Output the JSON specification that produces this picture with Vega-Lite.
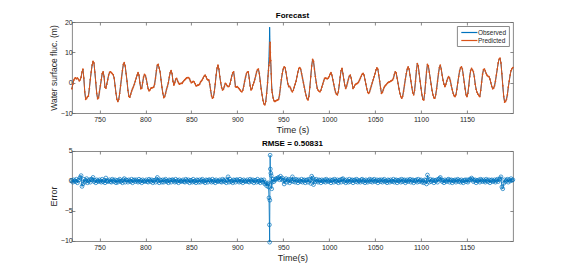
{
"$schema": "https://vega.github.io/schema/vega-lite/v6.json",
"padding": {"left": 47.9, "top": 11, "right": 5, "bottom": 2},
"data": {"values": [
{"t":720,"o":-2,"p":-2,"e":0.1},{"t":721,"o":-0.5,"p":-0.5,"e":-0.2},{"t":722,"o":0.8,"p":0.8,"e":0.2},{"t":723,"o":1.4,"p":1.4,"e":0},{"t":724,"o":1.6,"p":1.6,"e":-0.1},{"t":725,"o":1.3,"p":1.3,"e":0.3},{"t":726,"o":1.5,"p":1.5,"e":-0.3},{"t":727,"o":1.2,"p":1.2,"e":0.1},{"t":728,"o":0.6,"p":0.6,"e":0.2},{"t":729,"o":0.9,"p":0.9,"e":0.6},
{"t":730,"o":1.8,"p":1.8,"e":0.9},{"t":731,"o":3.5,"p":3.5,"e":-0.9},{"t":732,"o":4.5,"p":4.5,"e":-0.5},{"t":733,"o":1.5,"p":1.5,"e":0.3},{"t":734,"o":-3,"p":-3,"e":-0.2},{"t":735,"o":-5.5,"p":-5.5,"e":0.1},{"t":736,"o":-5.2,"p":-5.2,"e":0.4},{"t":737,"o":-4.6,"p":-4.6,"e":-0.3},{"t":738,"o":-4.4,"p":-4.4,"e":0},{"t":739,"o":-2,"p":-2,"e":0.2},
{"t":740,"o":1,"p":1,"e":-0.2},{"t":741,"o":3.5,"p":3.5,"e":0.3},{"t":742,"o":5.8,"p":5.8,"e":0.2},{"t":743,"o":7,"p":7,"e":0.6},{"t":744,"o":6.5,"p":6.5,"e":-0.1},{"t":745,"o":3.5,"p":3.5,"e":0.1},{"t":746,"o":0,"p":0,"e":-0.3},{"t":747,"o":-3.5,"p":-3.5,"e":0.2},{"t":748,"o":-5.3,"p":-5.3,"e":0},{"t":749,"o":-5,"p":-5,"e":-0.1},
{"t":750,"o":-3,"p":-3,"e":0.2},{"t":751,"o":-1,"p":-1,"e":0},{"t":752,"o":1,"p":1,"e":-0.2},{"t":753,"o":3,"p":3,"e":0.3},{"t":754,"o":3.6,"p":3.6,"e":-0.1},{"t":755,"o":2,"p":2,"e":0.1},{"t":756,"o":-1.5,"p":-1.5,"e":-0.3},{"t":757,"o":-1.8,"p":-1.8,"e":0.5},{"t":758,"o":-0.5,"p":-0.5,"e":0},{"t":759,"o":1,"p":1,"e":-0.1},
{"t":760,"o":2.5,"p":2.5,"e":0},{"t":761,"o":3.4,"p":3.4,"e":0.2},{"t":762,"o":3.6,"p":3.6,"e":-0.1},{"t":763,"o":3.3,"p":3.3,"e":-0.2},{"t":764,"o":3,"p":3,"e":0.3},{"t":765,"o":2.6,"p":2.6,"e":0.1},{"t":766,"o":1.5,"p":1.5,"e":-0.1},{"t":767,"o":-1,"p":-1,"e":0.2},{"t":768,"o":-3.5,"p":-3.5,"e":-0.3},{"t":769,"o":-5.5,"p":-5.5,"e":0.1},
{"t":770,"o":-6.2,"p":-6.2,"e":-0.2},{"t":771,"o":-5.5,"p":-5.5,"e":0.1},{"t":772,"o":-3.5,"p":-3.5,"e":0.3},{"t":773,"o":-1,"p":-1,"e":-0.1},{"t":774,"o":1.5,"p":1.5,"e":0},{"t":775,"o":4,"p":4,"e":-0.3},{"t":776,"o":6,"p":6,"e":0.2},{"t":777,"o":6.6,"p":6.6,"e":0.4},{"t":778,"o":5.5,"p":5.5,"e":-0.2},{"t":779,"o":3,"p":3,"e":0.2},
{"t":780,"o":0.5,"p":0.5,"e":0.1},{"t":781,"o":-2.5,"p":-2.5,"e":-0.2},{"t":782,"o":-4.5,"p":-4.5,"e":0.2},{"t":783,"o":-4.8,"p":-4.8,"e":0},{"t":784,"o":-3.8,"p":-3.8,"e":-0.1},{"t":785,"o":-2.8,"p":-2.8,"e":0.3},{"t":786,"o":-2,"p":-2,"e":-0.3},{"t":787,"o":-1.3,"p":-1.3,"e":0.1},{"t":788,"o":-0.5,"p":-0.5,"e":0.2},{"t":789,"o":0.5,"p":0.5,"e":-0.1},
{"t":790,"o":1.5,"p":1.5,"e":0.2},{"t":791,"o":2.5,"p":2.5,"e":0},{"t":792,"o":3.3,"p":3.3,"e":-0.2},{"t":793,"o":2.5,"p":2.5,"e":0.3},{"t":794,"o":0,"p":0,"e":-0.1},{"t":795,"o":-2,"p":-2,"e":0.1},{"t":796,"o":-1.8,"p":-1.8,"e":-0.3},{"t":797,"o":0,"p":0,"e":0.2},{"t":798,"o":1.8,"p":1.8,"e":0},{"t":799,"o":2.7,"p":2.7,"e":-0.1},
{"t":800,"o":2.4,"p":2.4,"e":0},{"t":801,"o":1.2,"p":1.2,"e":0.2},{"t":802,"o":-0.5,"p":-0.5,"e":-0.1},{"t":803,"o":-2,"p":-2,"e":-0.2},{"t":804,"o":-2.7,"p":-2.7,"e":0.3},{"t":805,"o":-2.4,"p":-2.4,"e":0.1},{"t":806,"o":-1.8,"p":-1.8,"e":-0.1},{"t":807,"o":-1.7,"p":-1.7,"e":0.2},{"t":808,"o":-1.6,"p":-1.6,"e":-0.3},{"t":809,"o":-1.5,"p":-1.5,"e":0.1},
{"t":810,"o":-0.5,"p":-0.5,"e":0.1},{"t":811,"o":1.5,"p":1.5,"e":-0.2},{"t":812,"o":4,"p":4,"e":0.3},{"t":813,"o":5.8,"p":5.8,"e":0.6},{"t":814,"o":6,"p":6,"e":0},{"t":815,"o":4.8,"p":4.8,"e":-0.3},{"t":816,"o":3.6,"p":3.6,"e":0.2},{"t":817,"o":1,"p":1,"e":0.1},{"t":818,"o":-1.5,"p":-1.5,"e":-0.2},{"t":819,"o":-3.5,"p":-3.5,"e":0.2},
{"t":820,"o":-4.9,"p":-4.9,"e":-0.2},{"t":821,"o":-4.6,"p":-4.6,"e":0.1},{"t":822,"o":-3.5,"p":-3.5,"e":0.3},{"t":823,"o":-2.2,"p":-2.2,"e":-0.1},{"t":824,"o":-1.2,"p":-1.2,"e":0},{"t":825,"o":0,"p":0,"e":-0.3},{"t":826,"o":1.8,"p":1.8,"e":0.2},{"t":827,"o":3.3,"p":3.3,"e":0.1},{"t":828,"o":4,"p":4,"e":-0.2},{"t":829,"o":3,"p":3,"e":0.2},
{"t":830,"o":0.5,"p":0.5,"e":0.2},{"t":831,"o":-0.8,"p":-0.8,"e":0},{"t":832,"o":0,"p":0,"e":-0.2},{"t":833,"o":1.2,"p":1.2,"e":0.3},{"t":834,"o":1.4,"p":1.4,"e":-0.1},{"t":835,"o":0.6,"p":0.6,"e":0.1},{"t":836,"o":0,"p":0,"e":-0.3},{"t":837,"o":-0.5,"p":-0.5,"e":0.2},{"t":838,"o":-0.3,"p":-0.3,"e":0},{"t":839,"o":-0.2,"p":-0.2,"e":-0.1},
{"t":840,"o":-0.2,"p":-0.2,"e":0},{"t":841,"o":0.3,"p":0.3,"e":0.2},{"t":842,"o":0.7,"p":0.7,"e":-0.1},{"t":843,"o":1,"p":1,"e":-0.2},{"t":844,"o":1.3,"p":1.3,"e":0.3},{"t":845,"o":1.6,"p":1.6,"e":0.1},{"t":846,"o":1.7,"p":1.7,"e":-0.1},{"t":847,"o":1.7,"p":1.7,"e":0.2},{"t":848,"o":1.3,"p":1.3,"e":-0.3},{"t":849,"o":0.5,"p":0.5,"e":0.1},
{"t":850,"o":0,"p":0,"e":0.1},{"t":851,"o":0.2,"p":0.2,"e":-0.2},{"t":852,"o":0.4,"p":0.4,"e":0.3},{"t":853,"o":0.3,"p":0.3,"e":-0.1},{"t":854,"o":-0.3,"p":-0.3,"e":0},{"t":855,"o":-1,"p":-1,"e":-0.3},{"t":856,"o":-1,"p":-1,"e":0.2},{"t":857,"o":-0.8,"p":-0.8,"e":0.1},{"t":858,"o":-0.8,"p":-0.8,"e":-0.2},{"t":859,"o":-0.5,"p":-0.5,"e":0.2},
{"t":860,"o":0.2,"p":0.2,"e":-0.2},{"t":861,"o":0.6,"p":0.6,"e":0.1},{"t":862,"o":1,"p":1,"e":0.3},{"t":863,"o":1.6,"p":1.6,"e":-0.1},{"t":864,"o":2.2,"p":2.2,"e":0},{"t":865,"o":2.5,"p":2.5,"e":-0.3},{"t":866,"o":2,"p":2,"e":0.2},{"t":867,"o":1.2,"p":1.2,"e":0.1},{"t":868,"o":0.9,"p":0.9,"e":-0.2},{"t":869,"o":0.9,"p":0.9,"e":0.2},
{"t":870,"o":-0.5,"p":-0.5,"e":0.2},{"t":871,"o":-2.5,"p":-2.5,"e":0},{"t":872,"o":-4.3,"p":-4.3,"e":-0.2},{"t":873,"o":-5.1,"p":-5.1,"e":0.3},{"t":874,"o":-4.8,"p":-4.8,"e":-0.1},{"t":875,"o":-3,"p":-3,"e":0.1},{"t":876,"o":-0.5,"p":-0.5,"e":-0.3},{"t":877,"o":2.5,"p":2.5,"e":0.2},{"t":878,"o":4.8,"p":4.8,"e":0},{"t":879,"o":5.8,"p":5.8,"e":-0.1},
{"t":880,"o":4.5,"p":4.5,"e":0},{"t":881,"o":2,"p":2,"e":0.2},{"t":882,"o":0,"p":0,"e":-0.1},{"t":883,"o":-1.6,"p":-1.6,"e":-0.2},{"t":884,"o":-2.4,"p":-2.4,"e":0.3},{"t":885,"o":-2.1,"p":-2.1,"e":0.1},{"t":886,"o":-1.2,"p":-1.2,"e":-0.1},{"t":887,"o":-0.2,"p":-0.2,"e":0.2},{"t":888,"o":-0.5,"p":-0.5,"e":-0.3},{"t":889,"o":-1,"p":-1,"e":0.1},
{"t":890,"o":-1.3,"p":-1.3,"e":0.7},{"t":891,"o":-1.2,"p":-1.2,"e":-0.2},{"t":892,"o":-0.5,"p":-0.5,"e":0.3},{"t":893,"o":0.8,"p":0.8,"e":-0.1},{"t":894,"o":2.2,"p":2.2,"e":0},{"t":895,"o":3.2,"p":3.2,"e":-0.3},{"t":896,"o":3.6,"p":3.6,"e":0.2},{"t":897,"o":1.5,"p":1.5,"e":0.1},{"t":898,"o":-1.3,"p":-1.3,"e":-0.2},{"t":899,"o":-1.5,"p":-1.5,"e":0.2},
{"t":900,"o":-1.3,"p":-1.3,"e":0.2},{"t":901,"o":-1.6,"p":-1.6,"e":0},{"t":902,"o":-2,"p":-2,"e":-0.2},{"t":903,"o":-2.4,"p":-2.4,"e":0.3},{"t":904,"o":-2.8,"p":-2.8,"e":-0.1},{"t":905,"o":-3,"p":-3,"e":0.1},{"t":906,"o":-2.5,"p":-2.5,"e":-0.3},{"t":907,"o":-1.2,"p":-1.2,"e":0.2},{"t":908,"o":0.4,"p":0.4,"e":0},{"t":909,"o":1.8,"p":1.8,"e":-0.1},
{"t":910,"o":3,"p":3,"e":0},{"t":911,"o":3.5,"p":3.5,"e":0.2},{"t":912,"o":3.6,"p":3.6,"e":-0.1},{"t":913,"o":1.5,"p":1.5,"e":-0.2},{"t":914,"o":-1,"p":-1,"e":0.3},{"t":915,"o":-2.4,"p":-2.4,"e":0.1},{"t":916,"o":-2,"p":-2,"e":-0.1},{"t":917,"o":-0.8,"p":-0.8,"e":0.2},{"t":918,"o":0,"p":0,"e":-0.3},{"t":919,"o":1,"p":1,"e":0.1},
{"t":920,"o":2.2,"p":2.2,"e":0.1},{"t":921,"o":3.5,"p":3.5,"e":-0.2},{"t":922,"o":4.3,"p":4.3,"e":0.3},{"t":923,"o":4.5,"p":4.5,"e":-0.1},{"t":924,"o":3,"p":3,"e":0},{"t":925,"o":0.5,"p":0.5,"e":-0.3},{"t":926,"o":-2,"p":-2,"e":0.2},{"t":927,"o":-4,"p":-4,"e":0.1},{"t":928,"o":-5.8,"p":-5.8,"e":-0.2},{"t":929,"o":-7,"p":-7,"e":0.2},
{"t":930,"o":-7.3,"p":-7.3,"e":-0.5},{"t":931,"o":-6.2,"p":-6.2,"e":-0.3},{"t":932,"o":-3.5,"p":-3.5,"e":-0.8},{"t":933,"o":0,"p":0,"e":-0.5},{"t":933.5,"o":2.5,"p":2.2,"e":-0.3},{"t":934,"o":5,"p":4,"e":-1.0},{"t":934.5,"o":8.5,"p":5.7,"e":-2.8},{"t":935,"o":14,"p":6.7,"e":-7.3},{"t":935.25,"o":18.3,"p":8.1,"e":-10.2},{"t":935.5,"o":15,"p":11.8,"e":-3.2},{"t":935.75,"o":9,"p":13.3,"e":4.3},{"t":936,"o":8,"p":10,"e":2.0},{"t":936.5,"o":6,"p":7.3,"e":1.3},{"t":937,"o":2,"p":2.9,"e":0.9},{"t":937.5,"o":-1,"p":-2.3,"e":-1.3},{"t":938,"o":-3,"p":-3.2,"e":-0.2},{"t":939,"o":-5,"p":-5,"e":0.3},
{"t":940,"o":-6,"p":-6,"e":-0.1},{"t":941,"o":-6.2,"p":-6.2,"e":0.2},{"t":942,"o":-6,"p":-6,"e":0.4},{"t":943,"o":-5.8,"p":-5.8,"e":0.3},{"t":944,"o":-5.7,"p":-5.7,"e":0.5},{"t":945,"o":-5.5,"p":-5.5,"e":0.6},{"t":946,"o":-4,"p":-4,"e":0.2},{"t":947,"o":-1.5,"p":-1.5,"e":0.8},{"t":948,"o":1,"p":1,"e":0.3},{"t":949,"o":3,"p":3,"e":0.5},
{"t":950,"o":4.5,"p":4.5,"e":0.1},{"t":951,"o":5.2,"p":5.2,"e":-0.5},{"t":952,"o":5,"p":5,"e":0.2},{"t":953,"o":3.5,"p":3.5,"e":0.4},{"t":954,"o":1.5,"p":1.5,"e":-0.2},{"t":955,"o":-0.3,"p":-0.3,"e":0.1},{"t":956,"o":-1.3,"p":-1.3,"e":0.3},{"t":957,"o":-1.2,"p":-1.2,"e":-0.3},{"t":958,"o":-1.8,"p":-1.8,"e":0.2},{"t":959,"o":-2.6,"p":-2.6,"e":0},
{"t":960,"o":-3,"p":-3,"e":0.7},{"t":961,"o":-2.5,"p":-2.5,"e":-0.1},{"t":962,"o":-1.5,"p":-1.5,"e":0.2},{"t":963,"o":-0.5,"p":-0.5,"e":-0.2},{"t":964,"o":0.5,"p":0.5,"e":0.3},{"t":965,"o":2,"p":2,"e":0.1},{"t":966,"o":3.5,"p":3.5,"e":-0.3},{"t":967,"o":4.7,"p":4.7,"e":0.2},{"t":968,"o":5,"p":5,"e":0},{"t":969,"o":4.5,"p":4.5,"e":-0.1},
{"t":970,"o":3,"p":3,"e":0.3},{"t":971,"o":1.5,"p":1.5,"e":-0.2},{"t":972,"o":0,"p":0,"e":0.1},{"t":973,"o":-1.5,"p":-1.5,"e":0.2},{"t":974,"o":-3,"p":-3,"e":-0.3},{"t":975,"o":-4.3,"p":-4.3,"e":0.1},{"t":976,"o":-5.3,"p":-5.3,"e":0.2},{"t":977,"o":-5.7,"p":-5.7,"e":-0.2},{"t":978,"o":-4.5,"p":-4.5,"e":0.3},{"t":979,"o":-1.5,"p":-1.5,"e":0.1},
{"t":980,"o":2,"p":2,"e":-0.4},{"t":981,"o":5.5,"p":5.5,"e":0.8},{"t":982,"o":7.7,"p":7.7,"e":0.5},{"t":983,"o":7,"p":7,"e":-0.6},{"t":984,"o":4.5,"p":4.5,"e":0.2},{"t":985,"o":2,"p":2,"e":-0.1},{"t":986,"o":0,"p":0,"e":0.3},{"t":987,"o":-1.8,"p":-1.8,"e":0},{"t":988,"o":-2.5,"p":-2.5,"e":-0.2},{"t":989,"o":-2.8,"p":-2.8,"e":0.2},
{"t":990,"o":-3,"p":-3,"e":0.1},{"t":991,"o":-2.5,"p":-2.5,"e":-0.3},{"t":992,"o":-1.5,"p":-1.5,"e":0.2},{"t":993,"o":-0.5,"p":-0.5,"e":0},{"t":994,"o":0.5,"p":0.5,"e":-0.1},{"t":995,"o":1.4,"p":1.4,"e":0.2},{"t":996,"o":1.5,"p":1.5,"e":-0.2},{"t":997,"o":1.4,"p":1.4,"e":0.3},{"t":998,"o":1.3,"p":1.3,"e":0.1},{"t":999,"o":1.5,"p":1.5,"e":-0.1},
{"t":1000,"o":2,"p":2,"e":0},{"t":1001,"o":2.8,"p":2.8,"e":0.2},{"t":1002,"o":3.3,"p":3.3,"e":-0.3},{"t":1003,"o":2.5,"p":2.5,"e":0.1},{"t":1004,"o":1,"p":1,"e":0.2},{"t":1005,"o":-0.5,"p":-0.5,"e":-0.2},{"t":1006,"o":-2,"p":-2,"e":0.3},{"t":1007,"o":-3.2,"p":-3.2,"e":0},{"t":1008,"o":-3.8,"p":-3.8,"e":-0.1},{"t":1009,"o":-4,"p":-4,"e":0.2},
{"t":1010,"o":-3,"p":-3,"e":-0.3},{"t":1011,"o":-0.8,"p":-0.8,"e":0.1},{"t":1012,"o":1.8,"p":1.8,"e":0.2},{"t":1013,"o":4,"p":4,"e":-0.2},{"t":1014,"o":4.7,"p":4.7,"e":0.3},{"t":1015,"o":3,"p":3,"e":0.4},{"t":1016,"o":1,"p":1,"e":-0.1},{"t":1017,"o":-0.8,"p":-0.8,"e":0.1},{"t":1018,"o":-1.9,"p":-1.9,"e":-0.3},{"t":1019,"o":-1.2,"p":-1.2,"e":0.2},
{"t":1020,"o":0,"p":0,"e":0},{"t":1021,"o":1.2,"p":1.2,"e":-0.2},{"t":1022,"o":2.2,"p":2.2,"e":0.3},{"t":1023,"o":2.5,"p":2.5,"e":-0.1},{"t":1024,"o":1.5,"p":1.5,"e":0.1},{"t":1025,"o":-0.2,"p":-0.2,"e":0.2},{"t":1026,"o":-1.9,"p":-1.9,"e":-0.3},{"t":1027,"o":-1.5,"p":-1.5,"e":0.1},{"t":1028,"o":-0.8,"p":-0.8,"e":0.2},{"t":1029,"o":-0.5,"p":-0.5,"e":-0.1},
{"t":1030,"o":-0.3,"p":-0.3,"e":0.3},{"t":1031,"o":-0.2,"p":-0.2,"e":-0.2},{"t":1032,"o":0.2,"p":0.2,"e":0.1},{"t":1033,"o":0.8,"p":0.8,"e":0},{"t":1034,"o":1.5,"p":1.5,"e":-0.2},{"t":1035,"o":2.2,"p":2.2,"e":0.2},{"t":1036,"o":2.8,"p":2.8,"e":0.3},{"t":1037,"o":3.1,"p":3.1,"e":-0.1},{"t":1038,"o":2.5,"p":2.5,"e":0.1},{"t":1039,"o":1,"p":1,"e":-0.3},
{"t":1040,"o":-0.5,"p":-0.5,"e":0.2},{"t":1041,"o":-2,"p":-2,"e":0},{"t":1042,"o":-3.2,"p":-3.2,"e":-0.2},{"t":1043,"o":-3.5,"p":-3.5,"e":0.1},{"t":1044,"o":-3,"p":-3,"e":0.3},{"t":1045,"o":-2,"p":-2,"e":-0.1},{"t":1046,"o":-1,"p":-1,"e":0.2},{"t":1047,"o":0,"p":0,"e":-0.2},{"t":1048,"o":1,"p":1,"e":0.1},{"t":1049,"o":2,"p":2,"e":0.3},
{"t":1050,"o":3,"p":3,"e":-0.1},{"t":1051,"o":4.2,"p":4.2,"e":0},{"t":1052,"o":4.9,"p":4.9,"e":0.2},{"t":1053,"o":4.5,"p":4.5,"e":-0.3},{"t":1054,"o":2.5,"p":2.5,"e":0.1},{"t":1055,"o":0.5,"p":0.5,"e":0.2},{"t":1056,"o":-1.8,"p":-1.8,"e":-0.1},{"t":1057,"o":-3.5,"p":-3.5,"e":0.2},{"t":1058,"o":-3.2,"p":-3.2,"e":-0.2},{"t":1059,"o":-2.3,"p":-2.3,"e":0.1},
{"t":1060,"o":-1.5,"p":-1.5,"e":0.3},{"t":1061,"o":-1,"p":-1,"e":-0.1},{"t":1062,"o":-0.7,"p":-0.7,"e":0},{"t":1063,"o":-0.3,"p":-0.3,"e":-0.3},{"t":1064,"o":0,"p":0,"e":0.2},{"t":1065,"o":0.2,"p":0.2,"e":0.1},{"t":1066,"o":0.3,"p":0.3,"e":-0.2},{"t":1067,"o":0.5,"p":0.5,"e":0.2},{"t":1068,"o":0.7,"p":0.7,"e":0},{"t":1069,"o":0.9,"p":0.9,"e":-0.1},
{"t":1070,"o":1.5,"p":1.5,"e":0.3},{"t":1071,"o":2.7,"p":2.7,"e":-0.2},{"t":1072,"o":3.6,"p":3.6,"e":0.1},{"t":1073,"o":3.2,"p":3.2,"e":0.2},{"t":1074,"o":1.5,"p":1.5,"e":-0.3},{"t":1075,"o":-0.2,"p":-0.2,"e":0.1},{"t":1076,"o":-2,"p":-2,"e":0},{"t":1077,"o":-3.5,"p":-3.5,"e":0.2},{"t":1078,"o":-4.6,"p":-4.6,"e":-0.2},{"t":1079,"o":-5.1,"p":-5.1,"e":0.3},
{"t":1080,"o":-4.5,"p":-4.5,"e":-0.1},{"t":1081,"o":-2.8,"p":-2.8,"e":0.1},{"t":1082,"o":-0.8,"p":-0.8,"e":0.2},{"t":1083,"o":1.2,"p":1.2,"e":-0.3},{"t":1084,"o":3,"p":3,"e":0},{"t":1085,"o":4.5,"p":4.5,"e":0.2},{"t":1086,"o":5.2,"p":5.2,"e":-0.1},{"t":1087,"o":4.5,"p":4.5,"e":0.1},{"t":1088,"o":2.5,"p":2.5,"e":0.3},{"t":1089,"o":0.5,"p":0.5,"e":-0.2},
{"t":1090,"o":-1.5,"p":-1.5,"e":0.1},{"t":1091,"o":-3.3,"p":-3.3,"e":0.2},{"t":1092,"o":-4,"p":-4,"e":-0.3},{"t":1093,"o":-2.5,"p":-2.5,"e":0.1},{"t":1094,"o":0.5,"p":0.5,"e":0},{"t":1095,"o":4,"p":4,"e":0.2},{"t":1096,"o":6.3,"p":6.3,"e":-0.2},{"t":1097,"o":5.5,"p":5.5,"e":0.3},{"t":1098,"o":3,"p":3,"e":-0.1},{"t":1099,"o":0.5,"p":0.5,"e":0.1},
{"t":1100,"o":-1.8,"p":-1.8,"e":0.2},{"t":1101,"o":-4,"p":-4,"e":-0.2},{"t":1102,"o":-5.5,"p":-5.5,"e":0},{"t":1103,"o":-5.7,"p":-5.7,"e":-0.3},{"t":1104,"o":-3.5,"p":-3.5,"e":0.2},{"t":1105,"o":0,"p":0,"e":0.1},{"t":1106,"o":3.5,"p":3.5,"e":-0.5},{"t":1107,"o":6,"p":6,"e":1.0},{"t":1108,"o":5.5,"p":5.5,"e":0.2},{"t":1109,"o":3.5,"p":3.5,"e":-0.2},
{"t":1110,"o":1.5,"p":1.5,"e":0.3},{"t":1111,"o":-0.5,"p":-0.5,"e":-0.1},{"t":1112,"o":-2.5,"p":-2.5,"e":0.1},{"t":1113,"o":-4,"p":-4,"e":0.2},{"t":1114,"o":-5,"p":-5,"e":-0.3},{"t":1115,"o":-5.1,"p":-5.1,"e":0.1},{"t":1116,"o":-4,"p":-4,"e":0},{"t":1117,"o":-2,"p":-2,"e":0.2},{"t":1118,"o":0.5,"p":0.5,"e":-0.2},{"t":1119,"o":3,"p":3,"e":0.3},
{"t":1120,"o":5,"p":5,"e":0.4},{"t":1121,"o":5.8,"p":5.8,"e":0.6},{"t":1122,"o":4.5,"p":4.5,"e":0.2},{"t":1123,"o":2.5,"p":2.5,"e":-0.1},{"t":1124,"o":0.8,"p":0.8,"e":0.1},{"t":1125,"o":-0.5,"p":-0.5,"e":-0.3},{"t":1126,"o":-1.3,"p":-1.3,"e":0.2},{"t":1127,"o":-0.6,"p":-0.6,"e":0},{"t":1128,"o":0.5,"p":0.5,"e":-0.1},{"t":1129,"o":1.4,"p":1.4,"e":0.2},
{"t":1130,"o":2,"p":2,"e":0.3},{"t":1131,"o":1.6,"p":1.6,"e":-0.2},{"t":1132,"o":0.5,"p":0.5,"e":0.1},{"t":1133,"o":-1,"p":-1,"e":0.2},{"t":1134,"o":-2.3,"p":-2.3,"e":-0.3},{"t":1135,"o":-3.5,"p":-3.5,"e":0.1},{"t":1136,"o":-4.3,"p":-4.3,"e":0},{"t":1137,"o":-4.6,"p":-4.6,"e":0.2},{"t":1138,"o":-4,"p":-4,"e":-0.2},{"t":1139,"o":-2.2,"p":-2.2,"e":0.1},
{"t":1140,"o":0,"p":0,"e":0.3},{"t":1141,"o":2,"p":2,"e":-0.1},{"t":1142,"o":3.8,"p":3.8,"e":0.1},{"t":1143,"o":4.9,"p":4.9,"e":-0.2},{"t":1144,"o":5.2,"p":5.2,"e":0.2},{"t":1145,"o":4.5,"p":4.5,"e":0},{"t":1146,"o":2.5,"p":2.5,"e":-0.3},{"t":1147,"o":0.2,"p":0.2,"e":0.1},{"t":1148,"o":-2,"p":-2,"e":0.2},{"t":1149,"o":-4,"p":-4,"e":-0.1},
{"t":1150,"o":-4.6,"p":-4.6,"e":0.2},{"t":1151,"o":-3.5,"p":-3.5,"e":-0.2},{"t":1152,"o":-1,"p":-1,"e":0.1},{"t":1153,"o":2,"p":2,"e":0.3},{"t":1154,"o":4,"p":4,"e":0.2},{"t":1155,"o":4.7,"p":4.7,"e":0.5},{"t":1156,"o":4.2,"p":4.2,"e":0.3},{"t":1157,"o":3.6,"p":3.6,"e":-0.1},{"t":1158,"o":2,"p":2,"e":0.1},{"t":1159,"o":-0.5,"p":-0.5,"e":0.2},
{"t":1160,"o":-2.2,"p":-2.2,"e":-0.3},{"t":1161,"o":-3.2,"p":-3.2,"e":0.1},{"t":1162,"o":-3.8,"p":-3.8,"e":0},{"t":1163,"o":-4.3,"p":-4.3,"e":0.2},{"t":1164,"o":-4.6,"p":-4.6,"e":-0.2},{"t":1165,"o":-2.5,"p":-2.5,"e":0.3},{"t":1166,"o":0.2,"p":0.2,"e":0.1},{"t":1167,"o":2.8,"p":2.8,"e":-0.1},{"t":1168,"o":4.3,"p":4.3,"e":0.2},{"t":1169,"o":4.5,"p":4.5,"e":0},
{"t":1170,"o":3.8,"p":3.8,"e":-0.2},{"t":1171,"o":3,"p":3,"e":0.3},{"t":1172,"o":2.4,"p":2.4,"e":0.1},{"t":1173,"o":2.1,"p":2.1,"e":-0.1},{"t":1174,"o":2,"p":2,"e":0.2},{"t":1175,"o":1.2,"p":1.2,"e":-0.3},{"t":1176,"o":0,"p":0,"e":0.1},{"t":1177,"o":-1.2,"p":-1.2,"e":0.2},{"t":1178,"o":-2,"p":-2,"e":-0.1},{"t":1179,"o":-1.8,"p":-1.8,"e":0},
{"t":1180,"o":-1,"p":-1,"e":0.2},{"t":1181,"o":0.5,"p":0.5,"e":-0.2},{"t":1182,"o":2.5,"p":2.5,"e":0.1},{"t":1183,"o":4.5,"p":4.5,"e":0.3},{"t":1184,"o":6.5,"p":6.5,"e":-0.1},{"t":1185,"o":7.8,"p":7.8,"e":0.2},{"t":1186,"o":8.1,"p":8.1,"e":0.4},{"t":1187,"o":6.5,"p":6.5,"e":0.7},{"t":1188,"o":3,"p":3,"e":-1.0},{"t":1189,"o":-1,"p":-1,"e":-1.3},
{"t":1190,"o":-4.5,"p":-4.5,"e":-0.4},{"t":1191,"o":-6.4,"p":-6.4,"e":0.2},{"t":1192,"o":-6.2,"p":-6.2,"e":-0.1},{"t":1193,"o":-5.5,"p":-5.5,"e":0.1},{"t":1194,"o":-4,"p":-4,"e":0.3},{"t":1195,"o":-1.5,"p":-1.5,"e":-0.2},{"t":1196,"o":0.5,"p":0.5,"e":0.2},{"t":1197,"o":2.5,"p":2.5,"e":0},{"t":1198,"o":4,"p":4,"e":0.4},{"t":1199,"o":4.6,"p":4.6,"e":0.1},
{"t":1200,"o":5,"p":5,"e":0.2}
]},
"config": {
  "font": "Liberation Sans",
  "view": {"stroke": "#8a8a8a", "strokeWidth": 1},
  "axis": {"grid": false, "domain": false, "tickColor": "#6a6a6a", "tickSize": -3, "tickWidth": 0.8, "labelFontSize": 7, "labelColor": "#262626", "titleFontSize": 9, "titleFontWeight": "normal", "titleColor": "#262626", "titlePadding": 3},
  "axisX": {"labelPadding": 5.5},
  "axisY": {"labelPadding": 2.7, "titlePadding": 2},
  "title": {"fontSize": 8, "fontWeight": "bold", "color": "#000000", "offset": -1.5},
  "legend": {"orient": "top-right", "offset": 4, "padding": 2, "strokeColor": "#8a8a8a", "fillColor": "#ffffff", "symbolType": "M-0.6,0H4", "symbolSize": 49, "symbolStrokeWidth": 1.2, "labelFontSize": 6.5, "labelColor": "#262626", "rowPadding": 0, "labelOffset": 10}
},
"spacing": 5,
"vconcat": [
  {
    "width": 441, "height": 91,
    "title": {"text": "Forecast"},
    "layer": [
      {
        "transform": [{"fold": ["o", "p"], "as": ["k", "v"]}],
        "mark": {"type": "line", "strokeWidth": 1},
        "encoding": {
          "x": {"field": "t", "type": "quantitative", "scale": {"domain": [720, 1200], "nice": false, "zero": false}, "axis": {"values": [750, 800, 850, 900, 950, 1000, 1050, 1100, 1150], "format": "d", "title": "Time (s)"}},
          "y": {"field": "v", "type": "quantitative", "scale": {"domain": [-10, 20], "nice": false}, "axis": {"values": [-10, 0, 10, 20], "title": "Water surface fluc. (m)", "titleFontSize": 8.5}},
          "color": {"field": "k", "type": "nominal", "scale": {"domain": ["o", "p"], "range": ["#0072BD", "#D95319"]}, "legend": {"title": null, "labelExpr": "datum.label == 'o' ? 'Observed' : 'Predicted'"}}
        }
      },
      {
        "mark": {"type": "point", "filled": true, "size": 3, "color": "#D95319", "opacity": 1},
        "encoding": {
          "x": {"field": "t", "type": "quantitative", "axis": {"orient": "top", "labels": false, "title": null, "values": [750, 800, 850, 900, 950, 1000, 1050, 1100, 1150]}},
          "y": {"field": "p", "type": "quantitative", "axis": {"orient": "right", "labels": false, "title": null, "values": [-10, 0, 10, 20]}}
        }
      }
    ],
    "resolve": {"axis": {"x": "independent", "y": "independent"}}
  },
  {
    "width": 441, "height": 90,
    "title": {"text": "RMSE = 0.50831"},
    "layer": [
      {
        "mark": {"type": "line", "strokeWidth": 0.8, "color": "#0072BD"},
        "encoding": {
          "x": {"field": "t", "type": "quantitative", "scale": {"domain": [720, 1200], "nice": false, "zero": false}, "axis": {"values": [750, 800, 850, 900, 950, 1000, 1050, 1100, 1150], "format": "d", "title": "Time(s)"}},
          "y": {"field": "e", "type": "quantitative", "scale": {"domain": [-10, 5], "nice": false}, "axis": {"values": [-10, -5, 0, 5], "title": "Error"}}
        }
      },
      {
        "mark": {"type": "point", "shape": "circle", "filled": false, "size": 14, "strokeWidth": 0.7, "color": "#0072BD", "opacity": 1},
        "encoding": {
          "x": {"field": "t", "type": "quantitative", "axis": {"orient": "top", "labels": false, "title": null, "values": [750, 800, 850, 900, 950, 1000, 1050, 1100, 1150]}},
          "y": {"field": "e", "type": "quantitative", "axis": {"orient": "right", "labels": false, "title": null, "values": [-10, -5, 0, 5]}}
        }
      }
    ],
    "resolve": {"axis": {"x": "independent", "y": "independent"}}
  }
]
}
